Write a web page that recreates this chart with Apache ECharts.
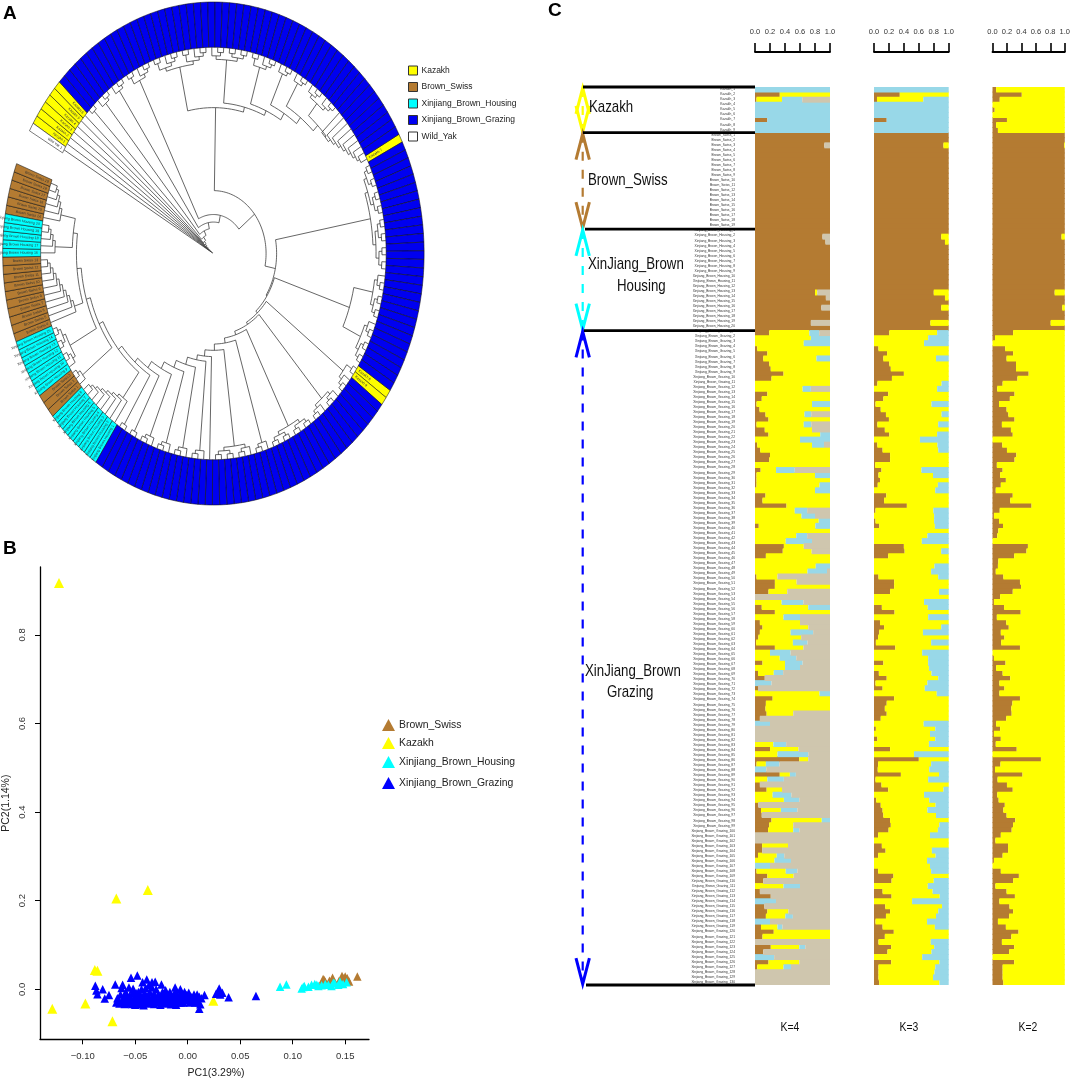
<!DOCTYPE html>
<html><head><meta charset="utf-8">
<style>html,body{margin:0;padding:0;background:#fff}#c{width:1073px;height:1080px}</style>
<script src="https://cdn.jsdelivr.net/npm/echarts@6/dist/echarts.min.js"></script>
</head><body><div id="c"></div>
<script>
const FONT='"Liberation Sans",Arial,sans-serif';
const BROWN='#B47B32',YELLOW='#FFFF00',CYAN='#00FFFF',BLUE='#0000F0',LBLUE='#98D8E8',TAN='#CFC6AE';

// ---- Panel C: admixture proportions, one value per sample row ----
const k4Brown=[0,.33,.02,0,0,0,.165,0,0,
1,1,.925,1,1,1,1,1,1,1,1,1,1,1,1,1,1,1,1,1,
.9,.94,1,1,1,1,1,1,1,1,1,.8,.945,1,.885,1,1,.745,1,
.19,0,0,.03,.165,.11,.19,.21,.38,.22,0,0,.165,.09,.02,.06,.14,.18,.02,.13,.18,0,
.03,.07,.2,.19,0,.075,.02,.02,.02,0,.14,.1,.42,0,0,0,.05,0,0,0,
.385,.37,.145,0,0,0,.02,.265,.265,.18,0,0,.09,.265,0,.065,.1,.065,.045,.015,
.265,0,0,.1,0,.04,.13,0,.04,0,.235,.145,.14,.155,.065,0,0,0,0,0,
.2,0,.59,.02,0,.33,0,.065,.155,0,0,.045,.08,.09,.22,.19,.175,0,0,.095,
.095,.04,0,0,.02,.165,.11,0,.065,.21,0,.125,.165,.145,0,.08,.25,.1,0,.21,
.11,0,.18,.03,0,0,0];
const k4Yellow=[0,.67,.34,0,0,0,0,0,0,
0,0,0,0,0,0,0,0,0,0,0,0,0,0,0,0,0,0,0,0,0,0,0,0,0,0,0,0,0,0,0,
.03,0,0,0,0,0,0,0,
.535,.745,.65,.97,.835,.71,.81,.79,.62,.78,1,.635,.835,.91,.74,.94,.52,.82,.63,.63,.69,.6,
.73,.93,.8,.81,1,.205,.78,.98,.84,.8,.86,.9,.58,.53,.62,.85,.755,1,.55,.41,
.265,.385,.855,1,.81,.7,.28,.29,.735,.25,0,.355,.62,.735,.38,.535,.61,.41,.57,.49,
.38,.2,.33,.3,.4,.21,0,0,0,.86,.765,.855,.86,.355,0,0,0,0,0,.245,
.38,.3,.12,.125,0,.135,.165,0,.205,.235,.385,0,.265,0,.67,.32,.335,0,0,.345,
0,.25,.26,0,.39,.35,0,.38,0,0,0,0,.28,.26,0,.22,.75,.9,0,.38,
0,0,.41,.35,0,0,0];
const k4Blue=[1,0,.27,1,1,1,.835,1,1,
0,0,0,0,0,0,0,0,0,0,0,0,0,0,0,0,0,0,0,0,0,0,0,0,0,0,0,0,0,0,0,0,0,0,0,0,0,0,0,
.13,.255,.35,0,0,.18,0,0,0,0,0,.11,0,0,.24,0,.09,0,.1,0,.13,.4,
.16,0,0,0,0,.25,.2,0,.14,.2,0,0,0,.165,.18,.15,.195,0,.145,.35,
0,0,0,0,.19,.26,0,0,0,0,0,.29,.29,0,.22,0,0,.3,0,.195,
0,.275,.22,.235,.2,.125,0,.22,0,.14,0,0,0,0,0,.2,0,0,0,.17,
0,.41,0,.18,.15,.08,.22,0,0,.25,.205,0,.22,0,.11,0,.08,0,0,0,
0,.1,.22,.2,.155,0,0,.22,0,0,.28,0,0,.1,.2,.065,0,0,0,.08,
0,.255,0,.1,0,0,0];
const k3Brown=[0,.345,.04,0,0,0,.17,0,0,
1,1,.93,1,1,1,1,1,1,1,1,1,1,1,1,1,1,1,1,1,
.9,.95,1,1,1,1,1,1,1,1,1,.8,.95,1,.9,1,1,.755,1,
.205,0,0,.06,.175,.125,.205,.225,.4,.24,.045,0,.19,.125,.02,.09,.16,.2,.045,.145,.205,0,
.045,.115,.215,.215,.015,.1,.06,.08,.05,0,.165,.135,.44,.02,0,.02,.07,0,0,0,
.4,.41,.19,0,0,0,.06,.27,.27,.215,0,0,.105,.275,0,.08,.135,.07,.055,.025,
.285,0,0,.125,0,.065,.17,.02,.115,0,.27,.17,.145,.17,.09,0,.025,0,.045,0,
.215,0,.6,.055,.05,.36,.02,.1,.19,0,.03,.09,.115,.125,.215,.225,.195,.055,0,.105,
.155,.055,0,0,.055,.26,.235,0,.115,.235,0,.15,.215,.16,.02,.115,.265,.145,.06,.23,
.18,0,.23,.06,.06,.06,.07];
const k3Blue=[1,0,.34,1,1,1,.83,1,1,
0,0,0,0,0,0,0,0,0,0,0,0,0,0,0,0,0,0,0,0,0,0,0,0,0,0,0,0,0,0,0,0,0,0,0,0,0,0,0,
.155,.275,.33,0,0,.17,0,0,0,0,.095,.155,0,0,.23,0,.095,0,.14,0,.155,.385,
.15,.14,0,0,0,.365,.21,0,.145,.18,0,0,0,.205,.195,.195,.185,0,.285,.36,
0,.1,0,0,.19,.235,.14,0,0,.13,0,.33,.28,0,.275,0,.1,.345,0,.235,
0,.355,.275,.275,.265,.23,.14,.285,.32,.16,0,0,0,0,0,.335,.18,.25,.18,.265,
0,.465,0,.235,.26,.13,.275,0,.07,.33,.26,.175,.285,.17,0,.125,.145,.25,0,0,
.225,.175,.29,.25,.235,0,.2,.28,.215,.12,.49,.09,.14,.17,.29,.185,0,0,.24,.195,
.23,.355,.125,.18,.19,.21,.125];
const k2Brown=[.05,.405,.1,0,.03,0,.2,.05,.075,
1,1,.99,1,1,1,1,1,1,1,1,1,1,1,1,1,1,1,1,1,
.955,1,1,1,1,1,1,1,1,1,1,.86,1,1,.965,1,1,.805,1,
.285,.035,0,.175,.285,.195,.325,.325,.5,.345,.14,.065,.305,.24,.09,.195,.22,.305,.13,.255,.28,0,
.135,.2,.33,.305,.06,.14,.105,.185,.115,.045,.28,.245,.54,.1,.02,.09,.145,.08,.065,0,
.49,.47,.3,.08,.075,.045,.15,.38,.395,.28,.105,.02,.16,.39,.06,.19,.225,.115,.165,.12,
.38,0,.02,.18,.05,.14,.245,.095,.165,.095,.38,.275,.26,.265,.19,.05,.105,.02,.115,.045,
.335,0,.67,.11,.035,.415,.07,.2,.28,.065,.085,.17,.15,.195,.315,.285,.265,.115,.04,.215,
.215,.14,.02,0,.115,.365,.285,.04,.195,.31,.095,.235,.285,.23,.075,.185,.36,.26,.13,.3,
.23,0,.3,.14,.14,.14,.15];
const k4Tan=k4Brown.map((b,i)=>+Math.max(0,1-b-k4Yellow[i]-k4Blue[i]).toFixed(3));
const k3Yellow=k3Brown.map((b,i)=>+Math.max(0,1-b-k3Blue[i]).toFixed(3));
const k2Yellow=k2Brown.map(b=>+(1-b).toFixed(3));
[k4Brown,k4Yellow,k4Blue,k3Brown,k3Blue,k2Brown].forEach((a,i)=>{if(a.length!==177)throw new Error('array '+i+' has '+a.length)});
const rowIdx=k4Brown.map((_,i)=>i);
const scaleTicks=[0,.2,.4,.6,.8,1];

// sample labels and group brackets
const labelGroups=[['Kazakh_',9],['Brown_Swiss_',19],['Xinjiang_Brown_Housing_',20],['Xinjiang_Brown_Grazing_',130]];
const rowLabels=[];labelGroups.forEach(([n,c])=>{for(let i=1;i<=c;i++)rowLabels.push(n+i)});
const groupEdges=[0,9,28,48,177];
const groupColors=[YELLOW,BROWN,CYAN,'#0000FF'];
const edgeStarts=[13,13,15,14,16];

// ---- Panel B: PCA ----
const pcaBrown=[[.129,.023],[.138,.026],[.15,.0286],[.1514,.0226],[.1537,.0173],[.1616,.0286],[.135,.019],[.148,.025],[.131,.017],[.145,.014],[.15,.02],[.147,.03],[.14,.015],[.152,.025],[.149,.017],[.136,.014],[.128,.016],[.144,.018],[.13,.021]];
const pcaKazakh=[[-.1226,.917],[-.068,.205],[-.038,.224],[-.0885,.0436],[-.086,.042],[-.129,-.044],[-.0975,-.032],[-.0717,-.072],[.0244,-.0256]];
const pcaHousing=[[.088,.006],[.094,.011],[.1086,.002],[.111,.0075],[.115,.006],[.118,.01],[.121,.012],[.1245,.0075],[.1276,.009],[.131,.012],[.134,.01],[.137,.0075],[.14,.0135],[.1435,.01],[.145,.0173],[.148,.012],[.1387,.015],[.123,.01],[.11,.005],[.1514,.016]];
const pcaGrazing=[[-.088,.008],[-.087,-.003],[-.086,-.011],[-.081,0],[-.079,-.021],[-.075,-.013],[-.069,.011],[-.068,-.03],[-.066,-.022],[-.065,-.032],[-.064,-.012],[-.063,.003],[-.062,.01],[-.061,-.026],[-.061,-.018],[-.06,-.033],[-.059,-.006],[-.058,-.021],[-.057,-.031],[-.056,.004],[-.055,-.014],[-.054,-.026],[-.053,-.033],[-.052,-.008],[-.052,.001],[-.054,.026],[-.048,.031],[-.051,-.022],[-.05,-.03],[-.05,-.035],[-.049,-.016],[-.048,-.026],[-.047,-.006],[-.046,-.022],[-.046,-.034],[-.045,-.013],[-.044,0],[-.044,-.028],[-.043,.016],[-.042,-.036],[-.042,-.019],[-.041,-.008],[-.04,.003],[-.04,-.027],[-.039,.022],[-.038,-.015],[-.038,-.032],[-.037,.009],[-.036,-.022],[-.036,-.007],[-.035,-.028],[-.034,.004],[-.034,.016],[-.033,-.017],[-.032,-.033],[-.032,-.01],[-.031,.017],[-.03,-.024],[-.03,0],[-.029,-.03],[-.028,-.012],[-.027,-.02],[-.026,-.035],[-.025,.011],[-.024,-.006],[-.024,-.027],[-.023,-.017],[-.022,-.032],[-.021,-.002],[-.021,-.024],[-.02,-.013],[-.019,-.029],[-.018,-.02],[-.017,-.006],[-.016,-.034],[-.016,-.025],[-.015,-.015],[-.014,-.03],[-.013,-.022],[-.012,-.006],[-.012,.004],[-.011,-.035],[-.01,-.012],[-.01,-.027],[-.009,-.02],[-.008,-.03],[-.007,-.009],[-.007,0],[-.006,-.024],[-.005,-.016],[-.004,-.03],[-.003,-.006],[-.002,-.022],[-.001,-.013],[0,-.025],[.001,-.008],[.002,-.03],[.003,-.016],[.005,-.02],[.006,-.012],[.007,-.03],[.008,-.024],[.009,-.012],[.01,-.03],[.011,-.044],[.011,-.017],[.012,-.034],[.013,-.02],[.016,-.013],[.027,-.01],[.029,-.005],[.03,.002],[.031,-.012],[.033,-.008],[.039,-.018],[.065,-.015],[-.067,-.02],[-.063,-.03],[-.058,-.015],[-.056,-.024],[-.049,-.009],[-.043,-.031],[-.037,-.025],[-.031,-.02],[-.027,-.028],[-.023,-.01],[-.015,-.022],[-.011,-.019],[-.006,-.03],[.004,-.026]];
const pcaXTicks=[-.1,-.05,0,.05,.1,.15];
const pcaYTicks=[0,.2,.4,.6,.8];

// ---- Panel A: tree ring groups (clockwise from the wedge) and topology ----
const ringGroups=[['Wild_Yak',1],['Kazakh',6],['Xinjiang_Brown_Grazing',55],['Kazakh',1],['Xinjiang_Brown_Grazing',30],['Kazakh',2],['Xinjiang_Brown_Grazing',44],['Xinjiang_Brown_Housing',8],['Brown_Swiss',3],['Xinjiang_Brown_Housing',7],['Brown_Swiss',10],['Xinjiang_Brown_Housing',5],['Brown_Swiss',6]];
const ringNames=['Kazakh','Brown_Swiss','Xinjiang_Brown_Housing','Xinjiang_Brown_Grazing','Wild_Yak'];
const ringColors={Kazakh:YELLOW,Brown_Swiss:BROWN,Xinjiang_Brown_Housing:CYAN,Xinjiang_Brown_Grazing:BLUE,Wild_Yak:'#FFFFFF'};
const ringStart=150.8, ringStep=1.976, ringInner=.82;
// node = [radius, child, child...]; 1 = tip; n>1 = small balanced clade; -n = comb clade
const treeSpec=[.004,1,[.014,1,[.024,1,[.034,1,[.044,1,[.054,1,[.064,1,[.08,2,[.10,3,[.125,3,[.155,5,
  [.25,
    [.58,10,[.60,7,[.62,5,[.65,3,[.68,3,[.71,6,-9]]]]]],
    [.30,16,[.305,[.68,7,7],
      [.315,5,[.325,6,[.34,8,[.36,3,[.385,7,[.41,1,[.43,3,[.46,3,[.49,3,[.52,3,[.55,2,[.57,2,
        [.59,-8,[.61,3,[.63,7,[.65,-10,[.67,-5,-6]]]]]
      ]]]]]]]]]]]]
    ]]
  ]
]]]]]]]]]]];

const cells=[];const counters={};
ringGroups.forEach(([g,n])=>{for(let i=0;i<n;i++){counters[g]=(counters[g]||0)+1;cells.push({g,n:counters[g]})}});
const cellA=i=>ringStart-i*ringStep;
const treeSegs=[];let tipNo=0;
function expand(s){
  if(s===-1)return 1;
  if(typeof s==='number'&&s>1){const a=Math.floor(s/2),b=s-a;return [.80-.014*(Math.ceil(Math.log2(s))-1),a,b]}
  if(typeof s==='number'&&s<-1){const n=-s;return [.80-.012*(n-1),1,-(n-1)]}
  return s;
}
function build(s){
  s=expand(s);
  if(s===1){const a=cellA(tipNo+.5);tipNo++;return {a,r:ringInner}}
  const r=s[0],kids=s.slice(1).map(build);
  const a0=kids[0].a,a1=kids[kids.length-1].a;
  kids.forEach(k=>treeSegs.push([k.a,r,k.a,k.r]));
  treeSegs.push([a0,r,a1,r]);
  return {a:(a0+a1)/2,r};
}
build(treeSpec);

function polar(a,r){const t=a*Math.PI/180;return [r*Math.cos(t),r*Math.sin(t)]}
function renderTree(p,api){
  const a0=api.value(0),r0=api.value(1),a1=api.value(2),r1=api.value(3);
  const pts=[];
  if(a0===a1){pts.push(api.coord(polar(a0,r0)),api.coord(polar(a1,r1)))}
  else{const n=Math.max(1,Math.ceil(Math.abs(a1-a0)/2));for(let i=0;i<=n;i++)pts.push(api.coord(polar(a0+(a1-a0)*i/n,r0)))}
  return {type:'polyline',shape:{points:pts},style:{stroke:'#333',lineWidth:.75,fill:null},silent:true};
}
function renderCell(color){return function(p,api){
  const i=api.value(0),a0=cellA(i),a1=cellA(i+1),am=(a0+a1)/2;
  const pts=[api.coord(polar(a0,1)),api.coord(polar(am,1)),api.coord(polar(a1,1)),api.coord(polar(a1,ringInner)),api.coord(polar(am,ringInner)),api.coord(polar(a0,ringInner))];
  const kids=[{type:'polygon',shape:{points:pts},style:{fill:color,stroke:'#111',lineWidth:.55}}];
  const c=cells[i];
  if(c.g!=='Xinjiang_Brown_Grazing'){
    const o=api.coord(polar(am,.99)),n=api.coord(polar(am,ringInner+.012));
    const left=n[0]>o[0];
    const dx=left?n[0]-o[0]:o[0]-n[0],dy=left?n[1]-o[1]:o[1]-n[1];
    kids.push({type:'text',x:n[0],y:n[1],rotation:-Math.atan2(dy,dx),style:{text:c.g.replace(/_/g,' ')+' '+c.n,fontSize:3.6,fontFamily:FONT,fill:'#333',align:left?'right':'left',verticalAlign:'middle'}});
  }
  return {type:'group',children:kids};
}}
const ringSeries=ringNames.map(nm=>({type:'custom',name:nm,coordinateSystem:'cartesian2d',xAxisIndex:0,yAxisIndex:0,clip:false,silent:true,z:3,
  itemStyle:{color:ringColors[nm]},renderItem:renderCell(ringColors[nm]),
  data:cells.map((c,i)=>c.g===nm?[i]:null).filter(v=>v)}));

// bars
const barSeries=[];
function stack(ax,arrs){arrs.forEach(([d,col],j)=>barSeries.push({type:'bar',stack:'k'+ax,xAxisIndex:ax,yAxisIndex:ax,barWidth:6,silent:true,itemStyle:{color:col},data:d}))}
stack(2,[[k4Brown,BROWN],[k4Yellow,YELLOW],[k4Blue,LBLUE],[k4Tan,TAN]]);
stack(3,[[k3Brown,BROWN],[k3Yellow,YELLOW],[k3Blue,LBLUE]]);
stack(4,[[k2Brown,BROWN],[k2Yellow,YELLOW]]);

// brackets
const bracketSeries=[];
const AX=12.7,WING=6.7,HEAD=5.3;
function bLine(pts,col,w,dash,z){bracketSeries.push({type:'line',xAxisIndex:6,yAxisIndex:6,showSymbol:false,silent:true,z:z||5,clip:false,animation:false,data:pts,lineStyle:{color:col,width:w,type:dash?[9,9]:'solid',join:'miter'}})}
groupColors.forEach((c,i)=>{
  const t=groupEdges[i],b=groupEdges[i+1];
  bLine([[AX,t+.2],[AX,b-.2]],c,2.2,true);
  bLine([[AX-WING,t+HEAD],[AX,t+.2],[AX+WING,t+HEAD]],c,3);
  bLine([[AX-WING,b-HEAD],[AX,b-.2],[AX+WING,b-HEAD]],c,3);
});
groupEdges.forEach((e,i)=>bLine([[edgeStarts[i],e],[185,e]],'#000',2.8,false,8));

const catY=(i)=>({type:'category',gridIndex:i,inverse:true,data:rowIdx,show:false,boundaryGap:true});
function kAxis(i){return {type:'value',gridIndex:i,position:'top',offset:35,min:0,max:1,splitLine:{show:false},
  axisLine:{show:true,onZero:false,lineStyle:{color:'#000',width:1.8}},
  axisTick:{show:true,length:9,customValues:scaleTicks,lineStyle:{color:'#000',width:1.6}},
  axisLabel:{show:true,margin:16,fontSize:7.5,fontFamily:FONT,color:'#333',customValues:scaleTicks,hideOverlap:false,formatter:v=>v.toFixed(1)}}}
const hidX=(i,min,max)=>({type:'value',gridIndex:i,min,max,show:false});

function txt(x,y,t,size,o={}){return {type:'text',x,y,scaleX:o.sx||1,z:20,style:{text:t,font:(o.bold?'bold ':'')+size+'px '+FONT,fill:o.fill||'#111',textAlign:o.align||'left',textVerticalAlign:'middle'}}}

const pcaLegends=[['Brown_Swiss',725],['Kazakh',743],['Xinjiang_Brown_Housing',762],['Xinjiang_Brown_Grazing',783]].map(([n,y])=>({
  left:382,top:y-6,padding:0,itemWidth:13,itemHeight:12,itemGap:0,selectedMode:false,
  data:[{name:n,icon:'triangle',itemStyle:{borderWidth:0,color:n==='Xinjiang_Brown_Grazing'?'#0000FF':undefined}}],textStyle:{fontFamily:FONT,fontSize:10.4,color:'#222',padding:[0,0,0,-1]}}));

const option={animation:false,backgroundColor:'#fff',
  grid:[
    {left:2.7,top:2,width:421.4,height:503},
    {left:40,top:567,width:329,height:472.3},
    {left:755,top:87,width:75,height:898},
    {left:874,top:87,width:74.7,height:898},
    {left:992.5,top:87,width:74.7,height:898},
    {left:736,top:86.8,width:1,height:897.7},
    {left:570,top:87,width:185,height:898}
  ],
  xAxis:[
    hidX(0,-1,1),
    {type:'value',gridIndex:1,min:-.1407,max:.1727,splitLine:{show:false},
      axisLine:{show:true,onZero:false,lineStyle:{color:'#000',width:1.3}},
      axisTick:{show:true,length:5,customValues:pcaXTicks,lineStyle:{color:'#000',width:1}},
      axisLabel:{margin:12.5,fontSize:9.5,fontFamily:FONT,color:'#333',customValues:pcaXTicks,formatter:v=>(v<0?'\u2212':'')+Math.abs(v).toFixed(2)}},
    kAxis(2),kAxis(3),kAxis(4),
    hidX(5,0,1),hidX(6,0,185)
  ],
  yAxis:[
    hidX(0,-1,1),
    {type:'value',gridIndex:1,min:-.1129,max:.9533,splitLine:{show:false},
      name:'PC2(1.14%)',nameLocation:'middle',nameGap:28,nameTextStyle:{fontFamily:FONT,fontSize:10.5,color:'#222'},
      axisLine:{show:true,onZero:false,lineStyle:{color:'#000',width:1.3}},
      axisTick:{show:true,length:5,customValues:pcaYTicks,lineStyle:{color:'#000',width:1}},
      axisLabel:{rotate:90,margin:13,fontSize:9.5,fontFamily:FONT,color:'#333',customValues:pcaYTicks,formatter:v=>v.toFixed(1)}},
    catY(2),catY(3),catY(4),
    {type:'category',gridIndex:5,inverse:true,data:rowLabels,axisLine:{show:false},axisTick:{show:false},
      axisLabel:{show:true,interval:0,margin:1,fontSize:3.3,fontFamily:FONT,color:'#333',hideOverlap:false}},
    {type:'value',gridIndex:6,inverse:true,min:0,max:177,show:false}
  ],
  legend:[
    {left:408,top:65.5,padding:0,orient:'vertical',itemWidth:9,itemHeight:9,itemGap:6.5,selectedMode:false,
      data:ringNames.map(n=>({name:n,icon:'rect',itemStyle:{borderColor:'#333',borderWidth:1}})),
      textStyle:{fontFamily:FONT,fontSize:8.5,color:'#222',padding:[0,0,0,-1]}},
    ...pcaLegends
  ],
  graphic:{elements:[
    txt(3,14,'A',19,{bold:true,fill:'#000'}),
    txt(3,549,'B',19,{bold:true,fill:'#000'}),
    txt(548,11,'C',19,{bold:true,fill:'#000'}),
    txt(216,1073,'PC1(3.29%)',10.5,{align:'center',fill:'#222'}),
    txt(589,107,'Kazakh',17,{sx:.78}),
    txt(588,180,'Brown_Swiss',17,{sx:.78}),
    txt(588,264,'XinJiang_Brown',17,{sx:.78}),
    txt(617,286,'Housing',17,{sx:.78}),
    txt(585,671,'XinJiang_Brown',17,{sx:.78}),
    txt(607,692,'Grazing',17,{sx:.78}),
    txt(790,1027,'K=4',13,{sx:.8,align:'center'}),
    txt(909,1027,'K=3',13,{sx:.8,align:'center'}),
    txt(1028,1027,'K=2',13,{sx:.8,align:'center'})
  ]},
  series:[
    {type:'custom',name:'tree',coordinateSystem:'cartesian2d',xAxisIndex:0,yAxisIndex:0,clip:false,silent:true,z:2,renderItem:renderTree,data:treeSegs},
    ...ringSeries,
    {type:'scatter',name:'Brown_Swiss',xAxisIndex:1,yAxisIndex:1,symbol:'triangle',symbolSize:8.5,silent:true,itemStyle:{color:BROWN,opacity:1},data:pcaBrown},
    {type:'scatter',name:'Kazakh',xAxisIndex:1,yAxisIndex:1,symbol:'triangle',symbolSize:10,silent:true,itemStyle:{color:YELLOW,opacity:1},data:pcaKazakh},
    {type:'scatter',name:'Xinjiang_Brown_Housing',xAxisIndex:1,yAxisIndex:1,symbol:'triangle',symbolSize:8.5,silent:true,itemStyle:{color:CYAN,opacity:1},data:pcaHousing},
    {type:'scatter',name:'Xinjiang_Brown_Grazing',xAxisIndex:1,yAxisIndex:1,symbol:'triangle',symbolSize:8.5,silent:true,itemStyle:{color:'#0000FF',opacity:1},data:pcaGrazing},
    ...barSeries,
    ...bracketSeries
  ]
};
const chart=echarts.init(document.getElementById('c'),null,{renderer:'canvas'});
chart.setOption(option);
</script></body></html>
